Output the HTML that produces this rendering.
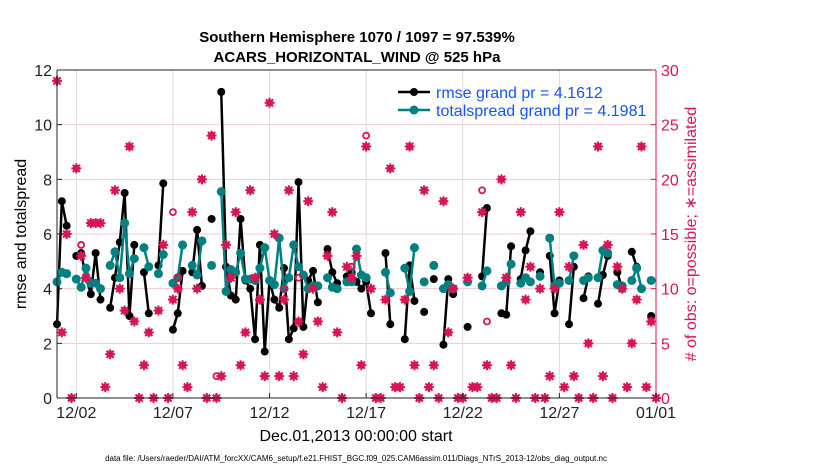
<!DOCTYPE html>
<html><head><meta charset="utf-8"><style>
body{margin:0;background:#fff;}
svg{display:block;font-family:"Liberation Sans",sans-serif;}
</style></head><body>
<svg id="chart" width="830" height="470" viewBox="0 0 830 470">
<text x="357" y="42" text-anchor="middle" font-size="15" font-weight="bold">Southern Hemisphere 1070 / 1097 = 97.539%</text>
<text x="357" y="62" text-anchor="middle" font-size="15" font-weight="bold">ACARS_HORIZONTAL_WIND @ 525 hPa</text>
<g id="grid"></g><g id="series"></g><g id="axes"></g>
<text transform="translate(26,234) rotate(-90)" text-anchor="middle" font-size="16">rmse and totalspread</text>
<text transform="translate(696,234) rotate(-90)" text-anchor="middle" font-size="16" fill="#d81553"># of obs: o=possible; ∗=assimilated</text>
<text x="356" y="441" text-anchor="middle" font-size="16">Dec.01,2013 00:00:00 start</text>
<text x="356" y="461" text-anchor="middle" font-size="8">data file: /Users/raeder/DAI/ATM_forcXX/CAM6_setup/f.e21.FHIST_BGC.f09_025.CAM6assim.011/Diags_NTrS_2013-12/obs_diag_output.nc</text>
<g>
<line x1="398" y1="92" x2="430" y2="92" stroke="#000" stroke-width="2.5"/><circle cx="414" cy="92" r="4" fill="#000"/>
<text x="436" y="98" font-size="16" fill="#1555f0">rmse grand pr = 4.1612</text>
<line x1="398" y1="110" x2="430" y2="110" stroke="#008080" stroke-width="2.5"/><circle cx="414" cy="110" r="4.5" fill="#008080"/>
<text x="436" y="116" font-size="16" fill="#1555f0">totalspread grand pr = 4.1981</text>
</g>
</svg>
<script>
const rmse=[2.7,7.2,6.3,null,5.2,5.3,4.4,3.8,5.3,3.6,
null,3.3,4.4,5.7,7.5,3.0,5.6,null,4.6,3.1,
null,4.85,7.85,null,2.5,3.1,4.65,null,4.6,6.15,
4.1,null,6.55,null,11.2,4.8,3.75,3.6,6.55,4.3,
4.0,2.15,5.6,1.7,4.3,3.6,3.3,4.75,2.15,2.55,
7.9,2.6,4.3,4.65,3.5,null,5.45,4.6,4.2,null,
4.45,4.6,4.25,4.0,4.25,3.1,null,null,5.3,2.7,
null,null,2.15,4.85,3.55,null,3.15,null,4.35,null,
1.95,4.35,3.8,null,null,2.6,null,null,4.45,6.95,
null,null,3.1,3.05,5.55,null,4.35,5.4,6.1,null,
4.6,null,5.2,3.1,4.3,null,2.7,4.8,null,3.65,
4.45,null,3.45,4.5,5.2,null,4.6,4.0,null,5.35,
4.8,null,null,3.0];
const spread=[4.25,4.6,4.55,null,4.35,4.05,4.75,4.2,4.2,4.0,
null,4.85,5.35,4.4,6.4,4.55,5.1,null,5.5,4.8,
null,4.55,5.25,null,4.2,4.4,5.6,null,4.85,4.5,
5.75,null,4.85,null,7.55,3.9,4.7,4.6,5.3,4.35,
4.35,4.3,4.75,5.5,4.3,4.15,5.85,4.0,4.4,5.6,
4.8,4.5,4.0,4.1,4.1,null,4.4,4.05,4.0,null,
4.25,4.25,5.45,4.5,4.4,null,null,null,4.6,3.85,
null,null,4.75,3.9,5.5,null,4.25,null,4.85,null,
4.0,4.15,4.0,null,null,4.25,null,null,4.1,4.65,
null,null,4.1,4.25,4.9,null,4.2,4.4,4.25,null,
4.45,null,5.85,4.1,4.2,null,4.3,5.2,null,4.3,
4.4,null,4.4,5.4,5.3,null,4.15,4.1,null,4.3,
4.75,4.0,null,4.3];
const nAssim=[29,6,15,0,21,13,11,16,16,16,
1,4,19,10,8,23,7,0,3,6,
0,8,14,0,9,10,3,1,17,10,
20,0,24,0,2,14,11,17,3,6,
19,11,9,2,27,15,2,9,19,2,
7,4,18,10,7,1,13,17,6,0,
12,11,13,3,23,10,0,0,9,21,
1,1,9,23,3,0,19,1,3,0,
18,6,10,0,0,11,1,1,17,3,
0,0,20,11,3,0,17,9,12,0,
10,0,2,10,17,1,12,2,0,14,
5,0,23,2,14,0,12,10,1,5,
9,23,1,7,0];
const nPoss=[29,6,15,0,21,14,11,16,16,16,
1,4,19,10,8,23,7,0,3,6,
0,8,14,0,17,11,3,1,17,10,
20,0,24,2,2,14,11,17,3,6,
19,11,9,2,27,15,2,10,19,2,
11,4,18,10,7,1,13,17,6,0,
12,12,13,3,24,10,0,0,9,21,
1,1,9,23,3,0,19,1,3,0,
18,6,10,0,0,11,1,1,19,7,
0,0,20,11,3,0,17,9,12,0,
10,0,2,10,17,1,12,2,0,14,
5,0,23,2,14,0,12,10,1,5,
9,23,1,7,0];
const yTicks=[0,2,4,6,8,10,12];
const y2Ticks=[0,5,10,15,20,25,30];
const xTickDays=[1,6,11,16,21,26,31];
const xTickLabels=["12/02","12/07","12/12","12/17","12/22","12/27","01/01"];

const NS="http://www.w3.org/2000/svg";
const L=57,R=656,T=70,B=398,DAYS=31;
const xs=t=>L+t*(R-L)/DAYS;
const ys=v=>B-v*(B-T)/12;
const ys2=v=>B-v*(B-T)/30;
function mk(tag,attrs,parent){const e=document.createElementNS(NS,tag);for(const k in attrs)e.setAttribute(k,attrs[k]);parent.appendChild(e);return e;}
const grid=document.getElementById('grid'),ser=document.getElementById('series'),ax=document.getElementById('axes');

y2Ticks.forEach(v=>{const g=mk('line',{x1:L,x2:R,y1:ys2(v),y2:ys2(v),stroke:'#f2c9d6','stroke-width':1},grid);

});
xTickDays.forEach(d=>{const g=mk('line',{x1:xs(d),x2:xs(d),y1:T,y2:B,stroke:'#dcdcdc','stroke-width':1},grid);

});

function drawSeries(arr,color,r,name){
  let seg=[];const segs=[];
  arr.forEach((v,i)=>{if(v===null){if(seg.length)segs.push(seg);seg=[];}else seg.push([xs(i/4),ys(v)]);});
  if(seg.length)segs.push(seg);
  segs.forEach(s=>{if(s.length>1){const p=mk('polyline',{points:s.map(q=>q.join(',')).join(' '),fill:'none',stroke:color,'stroke-width':2.5},ser);
  
  }});
  arr.forEach((v,i)=>{if(v!==null){const c=mk('circle',{cx:xs(i/4),cy:ys(v),r:r,fill:color},ser);
  
  }});
}
drawSeries(rmse,'#000',4,'rmse');
drawSeries(spread,'#008080',4.5,'totalspread');

const red='#d81553';
nPoss.forEach((v,i)=>{if(v!==nAssim[i]){const c=mk('circle',{cx:xs(i/4),cy:ys2(v),r:3,fill:'none',stroke:red,'stroke-width':1.8},ser);

}});
nAssim.forEach((v,i)=>{const cx=xs(i/4),cy=ys2(v);
const g=mk('g',{},ser);


mk('circle',{cx:cx,cy:cy,r:3.6,fill:red},g);
mk('path',{d:`M${cx-5},${cy}H${cx+5}M${cx},${cy-5}V${cy+5}M${cx-3.6},${cy-3.6}L${cx+3.6},${cy+3.6}M${cx-3.6},${cy+3.6}L${cx+3.6},${cy-3.6}`,stroke:red,'stroke-width':2},g);});

mk('line',{x1:L,x2:R,y1:T,y2:T,stroke:'#222','stroke-width':1},ax);
mk('line',{x1:L,x2:R,y1:B,y2:B,stroke:'#222','stroke-width':1},ax);
mk('line',{x1:L,x2:L,y1:T,y2:B,stroke:'#222','stroke-width':1},ax);
mk('line',{x1:R,x2:R,y1:T,y2:B,stroke:red,'stroke-width':1},ax);
yTicks.forEach(v=>{mk('line',{x1:L,x2:L+5,y1:ys(v),y2:ys(v),stroke:'#222'},ax);
const t=mk('text',{x:L-5,y:ys(v)+6,'text-anchor':'end','font-size':16,fill:'#222'},ax);t.textContent=v;

});
y2Ticks.forEach(v=>{mk('line',{x1:R-5,x2:R,y1:ys2(v),y2:ys2(v),stroke:red},ax);
const t=mk('text',{x:R+5,y:ys2(v)+6,'font-size':16,fill:red},ax);t.textContent=v;

});
xTickDays.forEach((d,k)=>{mk('line',{x1:xs(d),x2:xs(d),y1:B-5,y2:B,stroke:'#222'},ax);
const t=mk('text',{x:xs(d),y:B+20,'text-anchor':'middle','font-size':16,fill:'#222'},ax);t.textContent=xTickLabels[k];

});
</script>
</body></html>
